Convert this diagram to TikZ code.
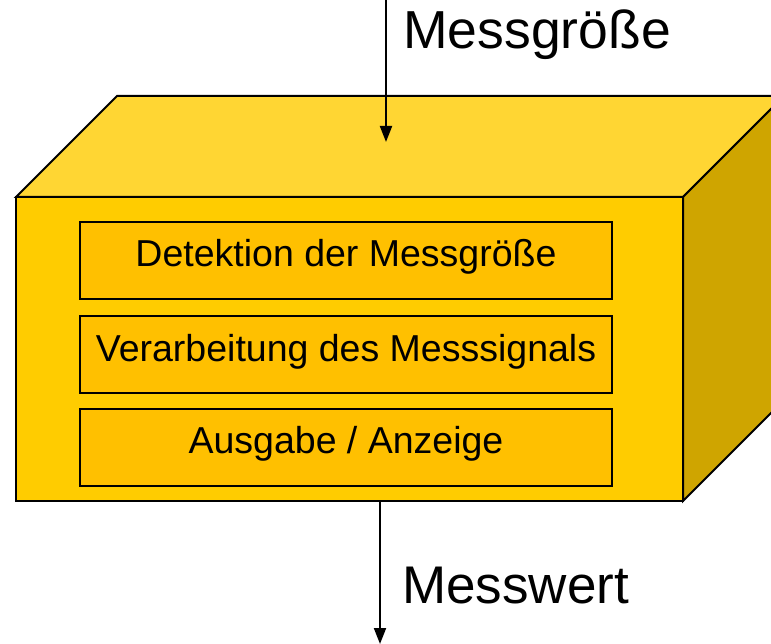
\documentclass[tikz,border=0pt]{standalone}
\usepackage{fontspec}
\setmainfont{Liberation Sans}
\usetikzlibrary{arrows.meta}
\definecolor{topface}{HTML}{FFD633}
\definecolor{frontface}{HTML}{FFCC00}
\definecolor{sideface}{HTML}{CFA500}
\definecolor{stagefill}{HTML}{FFC000}
\begin{document}
\begin{tikzpicture}[x=1pt,y=-1pt,line join=miter,
  face/.style={draw=black,line width=2pt},
  stagebox/.style={draw=black,line width=2pt,fill=stagefill,minimum width=532pt,minimum height=77pt,inner sep=0pt,text height=27pt,text depth=14pt,font=\fontsize{37.5}{40}\selectfont},
  flow/.style={line width=2pt,-{Triangle[length=16pt,width=12pt]}},
  biglabel/.style={anchor=base west,inner sep=0pt}]
\useasboundingbox (0,0) rectangle (771,644);
\begin{scope}
  \clip (0,0) rectangle (771,644);
  \filldraw[face,fill=topface] (16,197) -- (117,96) -- (784,96) -- (683,197) -- cycle;
  \filldraw[face,fill=sideface] (683,197) -- (784,96) -- (784,400) -- (683,501) -- cycle;
  \filldraw[face,fill=frontface] (16,197) rectangle (683,501);
\end{scope}
\node[stagebox] (detect) at (346,260.5) {Detektion der Messgröße};
\node[stagebox] (process) at (346,354.5) {Verarbeitung des Messsignals};
\node[stagebox] (output) at (346,447) {Ausgabe / Anzeige};
\coordinate (inStart) at (386,-2);
\coordinate (inTip) at (386,142);
\draw[flow] (inStart) -- (inTip);
\coordinate (outStart) at (380,502);
\coordinate (outTip) at (380,644);
\draw[flow] (outStart) -- (outTip);
\node[biglabel,font=\fontsize{53.5}{60}\selectfont] (qty) at (403,49) {Messgröße};
\node[biglabel,font=\fontsize{53}{60}\selectfont] (val) at (402,603) {Messwert};
\end{tikzpicture}
\end{document}
